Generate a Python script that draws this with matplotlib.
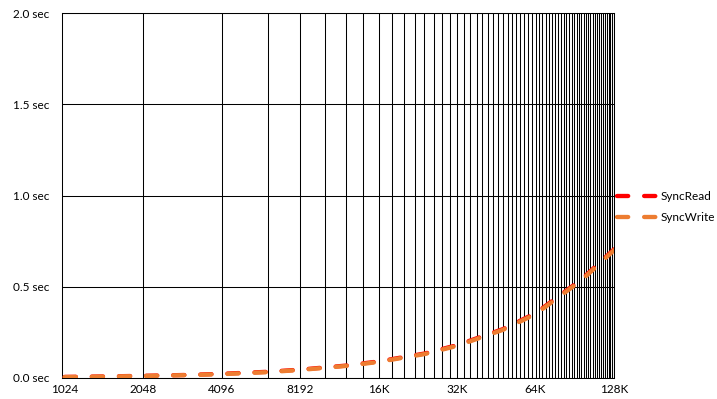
"""
SyncRead / SyncWrite timing vs. block size (log2 x axis).
"""

import matplotlib.pyplot as plt
import matplotlib.ticker as mticker

SIZES = [1024, 1536, 2048, 3072, 4096, 6144, 8192, 12288, 16384,
         24576, 32768, 49152, 65536, 98304, 131072]
SYNC_READ = [0.006, 0.009, 0.012, 0.017, 0.023, 0.034, 0.046, 0.068, 0.091,
             0.134, 0.180, 0.268, 0.355, 0.540, 0.705]
SYNC_WRITE = [0.005, 0.008, 0.011, 0.016, 0.021, 0.032, 0.044, 0.066, 0.088,
              0.131, 0.176, 0.264, 0.350, 0.535, 0.700]

X_TICKS = [1024, 2048, 4096, 8192, 16384, 32768, 65536, 131072]
X_LABELS = ["1024", "2048", "4096", "8192", "16K", "32K", "64K", "128K"]
X_GRID = list(range(2048, 131072 + 1, 2048))
Y_TICKS = [0.0, 0.5, 1.0, 1.5, 2.0]

plt.rcParams["font.family"] = ["Lato", "DejaVu Sans"]

fig = plt.figure(figsize=(7.17, 3.99), dpi=100)
ax = fig.add_axes([62 / 717, 21 / 399, 552 / 717, 365 / 399])

dash = (0, (2.6, 3.7))
ax.plot(SIZES, SYNC_READ, color="#FF0000", lw=3.1, linestyle=dash,
        dash_capstyle="round", label="SyncRead", zorder=3)
ax.plot(SIZES, SYNC_WRITE, color="#ED7D31", lw=3.1, linestyle=dash,
        dash_capstyle="round", label="SyncWrite", zorder=4)

ax.set_xscale("log", base=2)
ax.set_xlim(1000, 131072)
ax.set_ylim(0, 2.0)

ax.xaxis.set_major_locator(mticker.FixedLocator(X_TICKS))
ax.xaxis.set_major_formatter(mticker.FixedFormatter(X_LABELS))
ax.xaxis.set_minor_locator(mticker.FixedLocator(X_GRID))
ax.xaxis.set_minor_formatter(mticker.NullFormatter())
ax.xaxis.remove_overlapping_locs = False
ax.set_yticks(Y_TICKS)
ax.set_yticklabels([f"{v:.1f} sec" for v in Y_TICKS])

ax.tick_params(axis="x", which="both", length=0, pad=4, labelsize=8.5)
ax.tick_params(axis="y", length=0, pad=9, labelsize=8.5)

ax.grid(True, axis="y", which="major", color="black", lw=0.75)
ax.grid(True, axis="x", which="minor", color="black", lw=0.75)
ax.grid(False, axis="x", which="major")
ax.set_axisbelow(True)

for sp in ax.spines.values():
    sp.set_color("black")
    sp.set_linewidth(0.75)

ax.legend(loc="center left", bbox_to_anchor=(1.005, 0.468), frameon=False,
          fontsize=8.5, handlelength=3.6, handletextpad=0.15,
          labelspacing=0.9, borderpad=0, borderaxespad=0)

fig.savefig("out.png", dpi=100)
